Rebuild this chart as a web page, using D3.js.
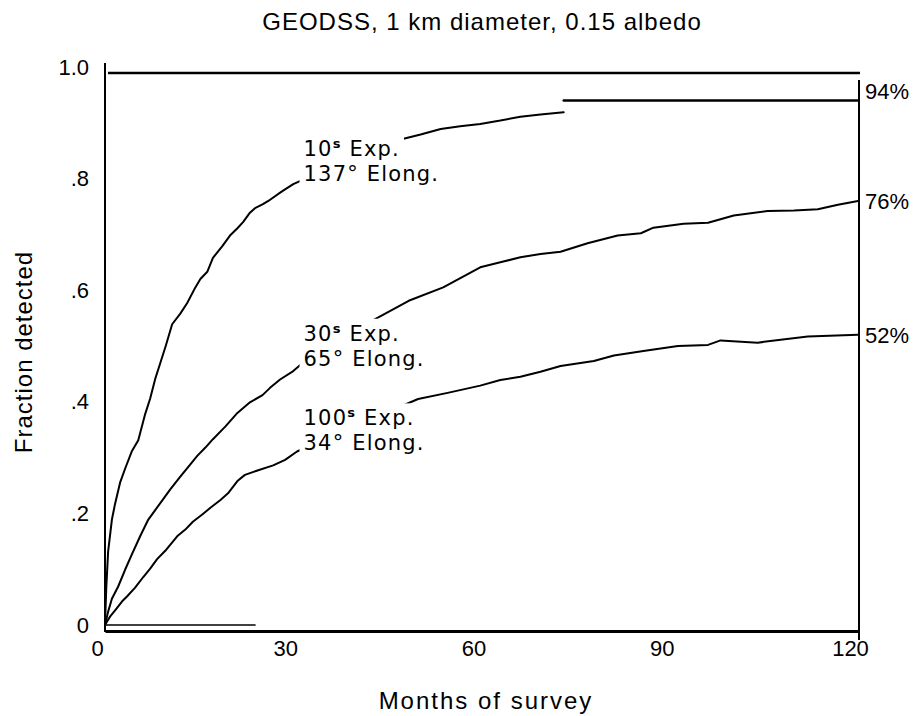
<!DOCTYPE html>
<html>
<head>
<meta charset="utf-8">
<script src="https://cdn.jsdelivr.net/npm/d3@7"></script>
<style>
  html, body { margin: 0; background: #fff; }
  svg { display: block; }
  text { font-family: "Liberation Sans", Arial, Helvetica, sans-serif; fill: #000; white-space: pre; }
</style>
</head>
<body>
<svg id="chart" width="918" height="716"></svg>
<script>
// Cumulative fraction of objects detected vs. months of survey (GEODSS, 1 km, albedo 0.15)

// 10 s exposure, 137° elongation
const exp10Months = [0, 0.2, 0.5, 1.1, 1.6, 2.4, 3.2, 4.3, 5.3, 6.4, 7.2, 8.0, 8.8, 9.7, 10.7, 12.0, 13.1, 14.4, 15.2, 16.3, 17.2, 18.7, 20.0, 21.1, 22.0, 23.1, 23.9, 25.1, 26.3, 28.2, 30.0, 38.3, 47.1, 50.3, 53.5, 56.6, 59.8, 63.0, 66.2, 69.4, 73.1];
const exp10Values = [0, 0.066, 0.132, 0.189, 0.217, 0.255, 0.280, 0.312, 0.331, 0.378, 0.406, 0.441, 0.469, 0.501, 0.539, 0.558, 0.577, 0.605, 0.620, 0.633, 0.658, 0.679, 0.699, 0.711, 0.722, 0.739, 0.747, 0.754, 0.762, 0.777, 0.790, 0.832, 0.870, 0.879, 0.889, 0.894, 0.898, 0.904, 0.911, 0.915, 0.919];
// level the 10 s curve is carried to at the end of the survey
const exp10PlateauMonths = [73.1, 120];
const exp10PlateauValue = 0.94;

// 30 s exposure, 65° elongation
const exp30Months = [0, 0.5, 1.1, 2.1, 3.2, 4.3, 5.6, 6.9, 8.0, 9.1, 10.4, 12.0, 13.6, 14.7, 16.0, 17.2, 19.2, 21.1, 23.1, 25.1, 26.3, 27.9, 30.0, 32.7, 40.7, 48.4, 53.9, 59.8, 63.0, 66.2, 69.4, 72.6, 76.9, 81.7, 85.4, 87.4, 92.2, 96.1, 100.2, 105.6, 109.8, 113.6, 116.8, 120];
const exp30Values = [0, 0.024, 0.047, 0.069, 0.099, 0.127, 0.159, 0.189, 0.206, 0.223, 0.243, 0.266, 0.288, 0.303, 0.318, 0.333, 0.356, 0.380, 0.399, 0.412, 0.425, 0.440, 0.455, 0.481, 0.534, 0.581, 0.605, 0.641, 0.650, 0.659, 0.665, 0.669, 0.684, 0.698, 0.702, 0.712, 0.719, 0.721, 0.734, 0.742, 0.743, 0.745, 0.753, 0.760];

// 100 s exposure, 34° elongation
const exp100Months = [0, 0.8, 1.8, 2.7, 3.5, 4.8, 6.1, 7.2, 8.3, 9.6, 11.5, 12.8, 14.0, 15.5, 16.8, 18.4, 19.6, 21.1, 22.3, 24.3, 26.8, 28.7, 30.6, 40.7, 49.9, 54.6, 59.8, 63.0, 66.2, 69.4, 72.6, 77.9, 81.1, 85.8, 91.3, 96.1, 98.1, 104.0, 112.0, 120];
const exp100Values = [0, 0.015, 0.029, 0.042, 0.051, 0.067, 0.086, 0.101, 0.118, 0.133, 0.159, 0.171, 0.185, 0.198, 0.210, 0.224, 0.236, 0.258, 0.269, 0.277, 0.286, 0.296, 0.311, 0.361, 0.405, 0.416, 0.429, 0.439, 0.445, 0.454, 0.464, 0.473, 0.483, 0.491, 0.500, 0.502, 0.510, 0.506, 0.517, 0.520];

// short zero-level trace at the start of the survey
const zeroTraceMonths = [0, 24];

const exposureLabels = ["10", "30", "100"];
const elongationLabels = ["137°", "65°", "34°"];

const monthTicks = [0, 30, 60, 90, 120];
const fractionTicks = [0, 0.2, 0.4, 0.6, 0.8, 1.0];
const fractionTickLabels = ["0", ".2", ".4", ".6", ".8", "1.0"];

const titleText = "GEODSS, 1 km diameter, 0.15 albedo";
const xTitle = "Months of survey";
const yTitle = "Fraction detected";

// ---- drawing ----
const svg = d3.select("#chart");
const x = d3.scaleLinear().domain([0, 120]).range([105, 858]);
const y = d3.scaleLinear().domain([0, 1]).range([625, 67]);

const zip = (ms, vs) => ms.map((m, i) => ({ m, v: vs[i] }));
const series = [
  { pts: zip(exp10Months, exp10Values), endValue: exp10PlateauValue },
  { pts: zip(exp30Months, exp30Values), endValue: exp30Values[exp30Values.length - 1] },
  { pts: zip(exp100Months, exp100Values), endValue: exp100Values[exp100Values.length - 1] }
];

const line = d3.line().x(d => x(d.m)).y(d => y(d.v));

// title
svg.append("text")
  .attr("x", 482).attr("y", 30)
  .attr("text-anchor", "middle")
  .style("font-size", "24px").style("letter-spacing", "1px")
  .text(titleText);

// frame
const frame = svg.append("g").attr("stroke", "#000").attr("fill", "none");
frame.append("line") // left
  .attr("x1", x(0)).attr("x2", x(0))
  .attr("y1", y(1) - 4).attr("y2", y(0) + 7)
  .attr("stroke-width", 2);
frame.append("line") // top
  .attr("x1", x(0) + 3).attr("x2", x(120) + 2)
  .attr("y1", y(1) + 6).attr("y2", y(1) + 6)
  .attr("stroke-width", 2.5);
frame.append("line") // right
  .attr("x1", x(120) + 1).attr("x2", x(120) + 1)
  .attr("y1", y(1) + 13).attr("y2", y(0) + 15)
  .attr("stroke-width", 2);

// x axis
const xAxis = svg.append("g")
  .attr("transform", `translate(0,${y(0) + 6})`)
  .call(d3.axisBottom(x).tickValues(monthTicks).tickSize(0).tickPadding(9).tickFormat(d3.format("d")));
xAxis.select(".domain").attr("stroke", "#000").attr("stroke-width", 3);
xAxis.selectAll(".tick text")
  .attr("dx", -8)
  .style("font-size", "22px").style("font-family", "'Liberation Sans', Arial, sans-serif");

// y axis labels
const yAxis = svg.append("g")
  .attr("transform", `translate(${x(0)},0)`)
  .call(d3.axisLeft(y).tickValues(fractionTicks).tickSize(0).tickPadding(16)
    .tickFormat((d, i) => fractionTickLabels[i]));
yAxis.select(".domain").remove();
yAxis.selectAll(".tick text")
  .style("font-size", "22px").style("font-family", "'Liberation Sans', Arial, sans-serif");

// axis titles
svg.append("text")
  .attr("x", 486).attr("y", 709)
  .attr("text-anchor", "middle")
  .style("font-size", "24px").style("letter-spacing", "2px")
  .text(xTitle);
svg.append("text")
  .attr("transform", "translate(32,352) rotate(-90)")
  .attr("text-anchor", "middle")
  .style("font-size", "24px").style("letter-spacing", "1px")
  .text(yTitle);

// zero trace
svg.append("path")
  .datum(zeroTraceMonths.map(m => ({ m, v: 0 })))
  .attr("d", line)
  .attr("fill", "none").attr("stroke", "#000").attr("stroke-width", 1.5);

// curves
const curves = svg.append("g").attr("fill", "none").attr("stroke", "#000")
  .attr("stroke-width", 2).attr("stroke-linejoin", "round").attr("stroke-linecap", "round");
series.forEach(s => curves.append("path").datum(s.pts).attr("d", line));
curves.append("path")
  .datum(exp10PlateauMonths.map(m => ({ m, v: exp10PlateauValue })))
  .attr("d", line).attr("stroke-width", 2.5);

// value at a given month, interpolated along a series
function valueAt(pts, m) {
  const i = d3.bisector(d => d.m).left(pts, m);
  if (i <= 0) return pts[0].v;
  if (i >= pts.length) return pts[pts.length - 1].v;
  const a = pts[i - 1], b = pts[i];
  return a.v + (b.v - a.v) * (m - a.m) / (b.m - a.m);
}

// curve annotations, each on a white backing so the curve breaks around it
const noteFont = "'DejaVu Sans', 'Liberation Sans', Arial, sans-serif";
const notes = svg.append("g");
series.forEach((s, k) => {
  const base = y(valueAt(s.pts, 31));
  const left = x(31) + 4;
  const g = notes.append("g");
  const t1 = g.append("text").attr("x", left).attr("y", base - 25)
    .style("font-family", noteFont).style("font-size", "21px").style("letter-spacing", "1.2px");
  t1.append("tspan").text(exposureLabels[k]);
  t1.append("tspan").attr("dy", -8).style("font-size", "13px").style("font-weight", "bold").text("s");
  t1.append("tspan").attr("dy", 8).text(" Exp.");
  const t2 = g.append("text").attr("x", left).attr("y", base)
    .style("font-family", noteFont).style("font-size", "21px").style("letter-spacing", "1.2px")
    .text(elongationLabels[k] + " Elong.");
  [t1, t2].forEach(t => {
    const b = t.node().getBBox();
    g.insert("rect", "text")
      .attr("x", b.x - 4).attr("y", b.y - 2)
      .attr("width", b.width + 8).attr("height", b.height + 4)
      .attr("fill", "#fff");
  });
});

// end-of-survey percentages, taken from each series' final value
const pct = d3.format(".0%");
svg.append("g").selectAll("text")
  .data(series)
  .join("text")
  .attr("x", x(120) + 7)
  .attr("y", (d, i) => i === 0 ? y(d.endValue) - 1 : y(d.endValue) + 8)
  .style("font-size", "22px")
  .text(d => pct(d.endValue));
</script>
</body>
</html>
